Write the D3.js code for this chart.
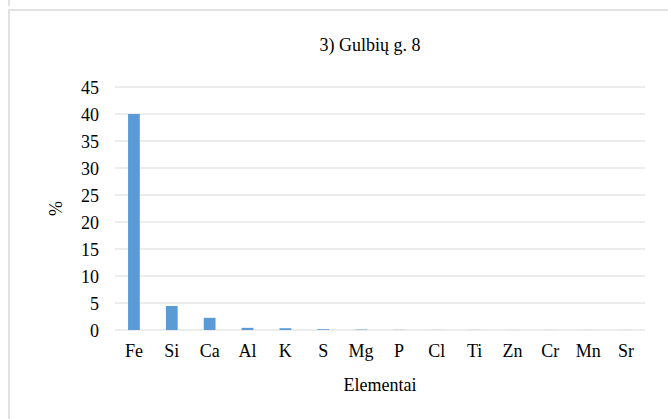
<!DOCTYPE html>
<html>
<head>
<meta charset="utf-8">
<script src="https://cdn.jsdelivr.net/npm/d3@7"></script>
<style>
  body { margin: 0; background: #fff; }
</style>
</head>
<body>
<svg id="chart" width="668" height="419" font-family="Liberation Serif"></svg>
<script>
// Element composition (%)
const elements = ["Fe", "Si", "Ca", "Al", "K", "S", "Mg", "P", "Cl", "Ti", "Zn", "Cr", "Mn", "Sr"];
const percents = [40, 4.45, 2.25, 0.4, 0.33, 0.15, 0.08, 0.03, 0.02, 0.02, 0.01, 0.01, 0.01, 0.01];
const yTicks = [0, 5, 10, 15, 20, 25, 30, 35, 40, 45];

const svg = d3.select("#chart");
const W = 668, H = 419;
const plot = { left: 115, right: 645, top: 87, bottom: 330 };

// outer frame (left and top edges)
svg.append("line").attr("x1", 9).attr("x2", 9).attr("y1", 0).attr("y2", 6)
  .attr("stroke", "#d9d9d9").attr("stroke-width", 1.5);
svg.append("path")
  .attr("d", `M9,${H} V10 H${W}`)
  .attr("fill", "none").attr("stroke", "#d9d9d9").attr("stroke-width", 1.5);

const x = d3.scaleBand().domain(elements).range([plot.left, plot.right]).paddingInner(0.69).paddingOuter(0.345);
const y = d3.scaleLinear().domain([0, 45]).range([plot.bottom, plot.top]);

// gridlines
svg.append("g").selectAll("line").data(yTicks).join("line")
  .attr("x1", plot.left).attr("x2", plot.right)
  .attr("y1", d => y(d)).attr("y2", d => y(d))
  .attr("stroke", "#d9d9d9").attr("stroke-width", 1);

// bars
svg.append("g").selectAll("rect").data(elements).join("rect")
  .attr("x", d => x(d))
  .attr("width", x.bandwidth())
  .attr("y", (d, i) => y(percents[i]))
  .attr("height", (d, i) => y(0) - y(percents[i]))
  .attr("fill", "#5b9bd5");

// y axis labels
const yAxis = d3.axisLeft(y).tickValues(yTicks).tickSize(0).tickPadding(0);
const gy = svg.append("g").attr("transform", `translate(${plot.left - 16},0)`).call(yAxis)
  .attr("font-family", "Liberation Serif").attr("font-size", 18);
gy.select(".domain").remove();
gy.selectAll("text").attr("fill", "#000").attr("dy", "0.34em");

// x axis labels
const xAxis = d3.axisBottom(x).tickSize(0).tickPadding(0);
const gx = svg.append("g").attr("transform", `translate(0,${plot.bottom + 14})`).call(xAxis)
  .attr("font-family", "Liberation Serif").attr("font-size", 18);
gx.select(".domain").remove();
gx.selectAll("text").attr("fill", "#000").attr("dy", "0.71em");

// titles
svg.append("text").attr("x", 370).attr("y", 51).attr("text-anchor", "middle")
  .attr("font-size", 18).text("3) Gulbių g. 8");
svg.append("text").attr("x", 380).attr("y", 391).attr("text-anchor", "middle")
  .attr("font-size", 18).text("Elementai");
svg.append("text").attr("transform", `translate(62,${(plot.top + plot.bottom) / 2}) rotate(-90)`)
  .attr("text-anchor", "middle").attr("font-size", 18).text("%");
</script>
</body>
</html>
